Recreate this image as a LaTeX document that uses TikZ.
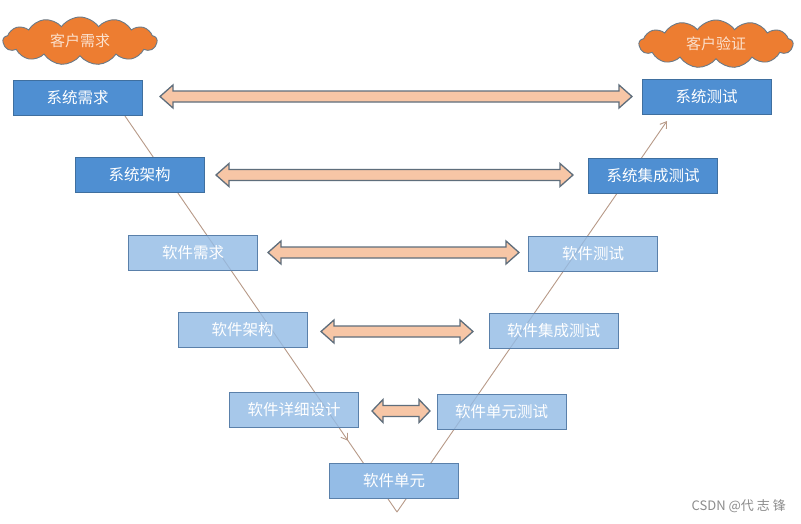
\documentclass[tikz,border=0pt]{standalone}
\usepackage{fontspec}
\newfontfamily\cjk{Noto Sans CJK SC}
\usetikzlibrary{shapes.symbols,decorations.markings,arrows.meta}
\definecolor{darkbox}{HTML}{4F8FD2}
\definecolor{darkedge}{HTML}{3F6F9F}
\definecolor{lightbox}{HTML}{94BCE6}
\definecolor{lightedge}{HTML}{5A80AA}
\definecolor{cloudfill}{HTML}{ED7D31}
\definecolor{cloudedge}{HTML}{6A7A88}
\definecolor{cloudtext}{HTML}{FBE0CC}
\definecolor{arrfill}{HTML}{F7C6A6}
\definecolor{arredge}{HTML}{5F6E7C}
\definecolor{vcol}{HTML}{B89A88}
\tikzset{
  boxbase/.style={rectangle, minimum width=129pt, minimum height=35pt, inner sep=0pt,
    font=\cjk\fontsize{15.5}{16}\selectfont, text=white, line width=1pt},
  darkstep/.style={boxbase, fill=darkbox, draw=darkedge},
  lightstep/.style={boxbase, fill=lightbox, draw=lightedge, fill opacity=0.82, text opacity=1},
  lightsolid/.style={boxbase, fill=lightbox, draw=lightedge},
  cloudnode/.style={cloud, cloud puffs=13, cloud puff arc=110, aspect=3.2, fill=cloudfill,
    draw=cloudedge, line width=0.9pt, text=cloudtext, inner sep=0pt,
    minimum width=154pt, minimum height=48pt, font=\cjk\fontsize{15}{16}\selectfont},
  dbarr/.style={fill=arrfill, draw=arredge, line width=1.3pt, line join=miter},
  vline/.style={draw=vcol, line width=0.9pt},
}
\newcommand{\dbarrow}[4]{% x1 x2 y headlen
  \path[dbarr] (#1,#3) -- ++(#4,-11.5) -- ++(0,6) -- (#2-#4,#3-5.5) -- ++(0,-6) -- (#2,#3)
    -- (#2-#4,#3+11.5) -- ++(0,-6) -- (#1+#4,#3+5.5) -- ++(0,6) -- cycle;}
\begin{document}
\begin{tikzpicture}[x=1pt,y=-1pt]
\useasboundingbox (0,0) rectangle (801,523);
\fill[white] (0,0) rectangle (801,523);

% V line (behind boxes)
\coordinate (vtop) at (125,116);
\coordinate (vbot) at (397,512);
\coordinate (vend) at (667,121);
\draw[vline, postaction={decorate}, decoration={markings,
   mark=at position 0.82 with {\arrow{Straight Barb[length=6pt,width=8pt]}}}] (vtop) -- (vbot);
\draw[vline, -{Straight Barb[length=6pt,width=8pt]}] (vbot) -- (vend);

% clouds
\node[cloudnode] (c1) at (80,41) {客户需求};
\node[cloudnode] (c2) at (716,44) {客户验证};

% boxes
\node[darkstep] (sr) at (77.5,98) {系统需求};
\node[darkstep] (sa) at (139.5,175) {系统架构};
\node[darkstep] (st) at (706.5,97) {系统测试};
\node[darkstep] (sit) at (653,176) {系统集成测试};
\node[lightstep] (wr) at (193,252.5) {软件需求};
\node[lightstep] (wt) at (593,253.5) {软件测试};
\node[lightstep] (wa) at (242.5,329.5) {软件架构};
\node[lightstep] (wit) at (553.5,330.5) {软件集成测试};
\node[lightstep] (wd) at (294,409.5) {软件详细设计};
\node[lightstep] (wut) at (501.5,411.5) {软件单元测试};
\node[lightsolid] (wu) at (394,481) {软件单元};

% double arrows
\dbarrow{160}{632}{96.5}{13}
\dbarrow{216}{573}{175}{13}
\dbarrow{268}{519}{252.5}{13}
\dbarrow{321}{473}{331.5}{13}
\dbarrow{372}{430}{411}{11}

% watermark
\node[anchor=east, text=black!45, font=\cjk\fontsize{13}{14}\selectfont, inner sep=0pt] (wm) at (786,506) {CSDN @代 志 锋};
\end{tikzpicture}
\end{document}
